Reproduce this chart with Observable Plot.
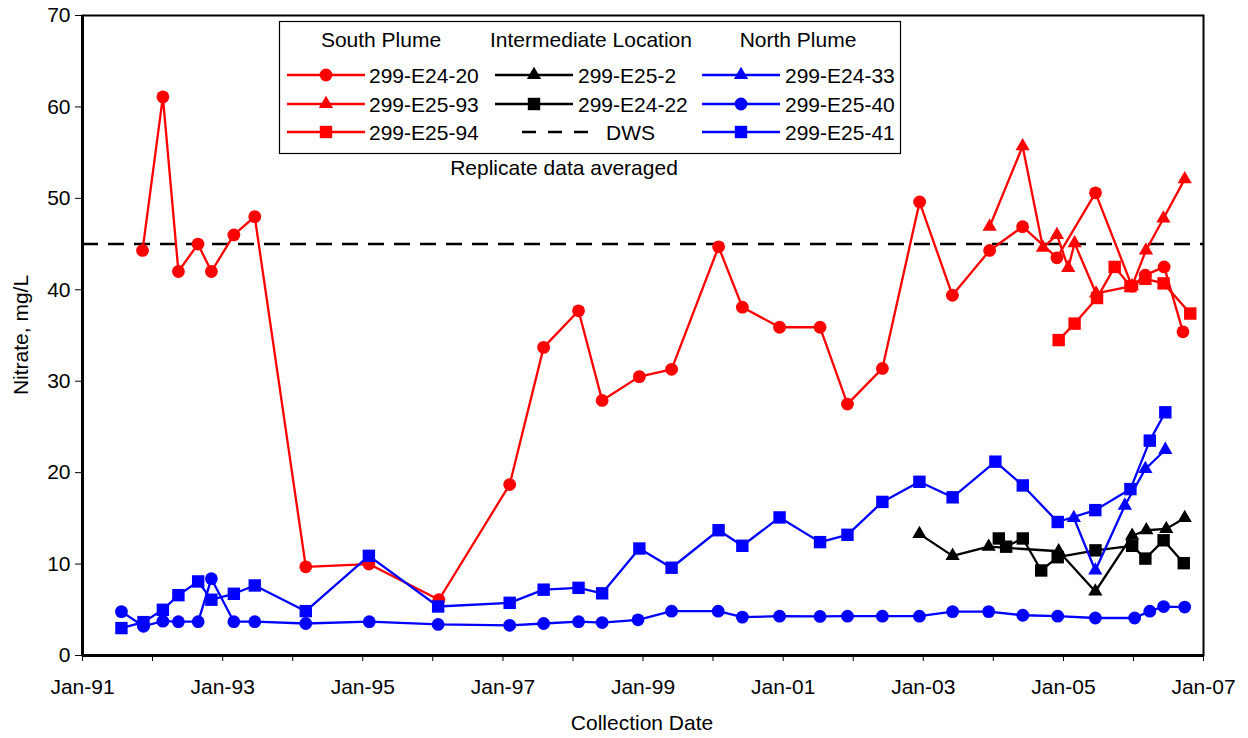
<!DOCTYPE html>
<html><head><meta charset="utf-8">
<script src="https://cdn.jsdelivr.net/npm/d3@7"></script>
<script src="https://cdn.jsdelivr.net/npm/@observablehq/plot@0.6"></script>
<style>
body{margin:0;background:#fff;font-family:"Liberation Sans",Arial,sans-serif;}
#chart{position:relative;width:1248px;height:738px;}
</style></head><body><div id="chart"></div>
<script>
// ---- data ----
const dwsValue = 45;

const e2420Dates = ["1991-11-10","1992-02-24","1992-05-15","1992-08-25","1992-11-03","1993-02-28","1993-06-17","1994-03-10","1995-02-02","1996-02-02","1997-02-05","1997-08-01","1998-01-30","1998-06-02","1998-12-13","1999-05-30","2000-01-30","2000-06-02","2000-12-13","2001-07-12","2001-12-02","2002-06-02","2002-12-13","2003-06-02","2003-12-13","2004-06-02","2004-11-28","2005-06-17","2005-12-24","2006-03-03","2006-06-10","2006-09-16"];
const e2420Values = [44.3,61.1,42.0,45.0,42.0,46.0,48.0,9.7,10.0,6.1,18.7,33.7,37.7,27.9,30.5,31.3,44.7,38.1,35.9,35.9,27.5,31.4,49.6,39.4,44.3,46.9,43.5,50.6,40.4,41.6,42.5,35.4];

const e2593Dates = ["2003-12-13","2004-06-02","2004-09-16","2004-11-28","2005-01-26","2005-02-28","2005-06-20","2005-12-24","2006-03-07","2006-06-06","2006-09-25"];
const e2593Values = [46.9,55.7,44.6,46.0,42.4,45.1,39.6,40.4,44.3,47.8,52.1];

const e2594Dates = ["2004-12-07","2005-02-28","2005-06-25","2005-09-25","2005-12-16","2006-03-04","2006-06-07","2006-10-24"];
const e2594Values = [34.5,36.3,39.1,42.5,40.4,41.2,40.7,37.4];

const e252Dates = ["2002-12-12","2003-06-03","2003-12-08","2004-12-07","2005-06-16","2005-12-25","2006-03-09","2006-06-21","2006-09-25"];
const e252Values = [13.3,10.9,11.9,11.4,7.0,13.1,13.7,13.85,15.05];

const e2422Dates = ["2004-01-30","2004-03-08","2004-06-03","2004-09-07","2004-12-02","2005-06-17","2005-12-25","2006-03-04","2006-06-07","2006-09-20"];
const e2422Values = [12.8,11.9,12.8,9.3,10.75,11.5,12.0,10.6,12.6,10.1];

const e2433Dates = ["2005-02-24","2005-06-16","2005-11-17","2006-03-04","2006-06-16"];
const e2433Values = [15.05,9.3,16.4,20.4,22.5];

const e2540Dates = ["1991-07-23","1991-11-15","1992-02-24","1992-05-15","1992-08-26","1992-11-03","1993-02-28","1993-06-17","1994-03-10","1995-02-04","1996-01-29","1997-02-05","1997-08-01","1998-01-30","1998-06-02","1998-12-06","1999-05-30","2000-01-28","2000-06-02","2000-12-13","2001-07-12","2001-12-02","2002-06-02","2002-12-12","2003-06-03","2003-12-08","2004-06-03","2004-12-02","2005-06-16","2006-01-07","2006-03-27","2006-06-07","2006-09-25"];
const e2540Values = [4.8,3.2,3.75,3.7,3.7,8.4,3.7,3.7,3.5,3.7,3.4,3.3,3.5,3.7,3.6,3.9,4.85,4.85,4.2,4.3,4.27,4.3,4.3,4.3,4.8,4.8,4.4,4.3,4.1,4.1,4.85,5.35,5.3];

const e2541Dates = ["1991-07-23","1991-11-15","1992-02-24","1992-05-15","1992-08-26","1992-11-03","1993-02-28","1993-06-17","1994-03-10","1995-02-02","1996-01-29","1997-02-05","1997-08-01","1998-01-30","1998-06-02","1998-12-13","1999-05-30","2000-01-30","2000-06-02","2000-12-13","2001-07-12","2001-12-02","2002-06-02","2002-12-12","2003-06-03","2004-01-12","2004-06-03","2004-12-02","2005-06-16","2005-12-16","2006-03-27","2006-06-16"];
const e2541Values = [3.0,3.65,5.0,6.6,8.1,6.1,6.75,7.66,4.85,10.9,5.36,5.76,7.2,7.4,6.8,11.7,9.6,13.7,12.0,15.1,12.4,13.2,16.8,19.0,17.3,21.2,18.6,14.6,15.9,18.2,23.5,26.6];

const groupNames = ["South Plume","Intermediate Location","North Plume"];
const southWells = ["299-E24-20","299-E25-93","299-E25-94"];
const intermediateWells = ["299-E25-2","299-E24-22"];
const northWells = ["299-E24-33","299-E25-40","299-E25-41"];
const yTicks = [0,10,20,30,40,50,60,70];
const xDomain = ["1991-01-01","2007-01-01"];
const xLabel = "Collection Date";
const yLabel = "Nitrate, mg/L";
const noteText = "Replicate data averaged";
const dwsLabel = "DWS";

// ---- build ----
const seriesData = {
  "299-E24-20": [e2420Dates, e2420Values],
  "299-E25-93": [e2593Dates, e2593Values],
  "299-E25-94": [e2594Dates, e2594Values],
  "299-E25-2":  [e252Dates, e252Values],
  "299-E24-22": [e2422Dates, e2422Values],
  "299-E24-33": [e2433Dates, e2433Values],
  "299-E25-40": [e2540Dates, e2540Values],
  "299-E25-41": [e2541Dates, e2541Values]
};
const style = {
  "299-E24-20": {color:"#ff0000", symbol:"circle"},
  "299-E25-93": {color:"#ff0000", symbol:"triangle"},
  "299-E25-94": {color:"#ff0000", symbol:"square"},
  "299-E25-2":  {color:"#000000", symbol:"triangle"},
  "299-E24-22": {color:"#000000", symbol:"square"},
  "299-E24-33": {color:"#0000ff", symbol:"triangle"},
  "299-E25-40": {color:"#0000ff", symbol:"circle"},
  "299-E25-41": {color:"#0000ff", symbol:"square"}
};
const symR = {circle:6.4, square:7.0, triangle:5.3};
const parse = s => new Date(s + "T00:00:00Z");
const order = [...southWells, ...intermediateWells, ...northWells];
const FONT = '"Liberation Sans", Arial, sans-serif';

const marks = [];
marks.push(Plot.ruleY([dwsValue], {stroke:"#000", strokeWidth:2.5, strokeDasharray:"16,10"}));
for (const name of order) {
  const [ds, vs] = seriesData[name];
  const rows = ds.map((d,i) => ({date: parse(d), value: vs[i]}));
  const st = style[name];
  marks.push(Plot.line(rows, {x:"date", y:"value", stroke:st.color, strokeWidth:2.3}));
  marks.push(Plot.dot(rows, {x:"date", y:"value", symbol:st.symbol, fill:st.color, stroke:"none", r:symR[st.symbol]}));
}
const yearTicks = d3.range(1991, 2008).map(y => new Date(Date.UTC(y,0,1)));
const fmt = d3.utcFormat("%b-%y");
marks.push(Plot.axisX({ticks: yearTicks, tickSize: 6, tickPadding: 18, label: null,
  tickFormat: d => d.getUTCFullYear() % 2 ? fmt(d) : ""}));
marks.push(Plot.axisY({ticks: yTicks, tickSize: 7, tickPadding: 5, label: null}));
marks.push(Plot.frame({stroke:"#000", strokeWidth:2}));
marks.push(Plot.ruleX([parse(xDomain[0])], {stroke:"#000", strokeWidth:3}));
marks.push(Plot.ruleY([0], {stroke:"#000", strokeWidth:3}));

const chart = Plot.plot({
  width: 1248, height: 738,
  marginLeft: 82, marginRight: 45, marginTop: 15, marginBottom: 83,
  x: {type:"utc", domain: xDomain.map(parse)},
  y: {domain: [0,70]},
  style: {fontFamily: FONT, fontSize: "21px", color:"#000", background:"#fff", overflow:"visible"},
  marks
});
document.getElementById("chart").appendChild(chart);

// ---- overlay: labels and legend ----
const svg = d3.select(chart);
const g = svg.append("g").attr("font-family", FONT).attr("font-size", 21).attr("fill", "#000").attr("text-anchor","start");
g.append("text").attr("x", 642).attr("y", 722).attr("text-anchor","middle").attr("dominant-baseline","central").text(xLabel);
g.append("text").attr("transform","translate(20,335) rotate(-90)").attr("text-anchor","middle").attr("dominant-baseline","central").text(yLabel);

const lg = g.append("g");
lg.append("rect").attr("x",279.5).attr("y",21.5).attr("width",621).attr("height",132).attr("fill","#fff").attr("stroke","#000").attr("stroke-width",1.2);
const headerX = [381, 591, 798];
groupNames.forEach((t,i) => lg.append("text").attr("x", headerX[i]).attr("y", 39).attr("text-anchor","middle").attr("dominant-baseline","central").text(t));
const rowY = [75, 104, 132];
const cols = [
  {x0:287, x1:365, xm:326, xt:369, wells: southWells},
  {x0:495, x1:573, xm:534, xt:578, wells: intermediateWells},
  {x0:702, x1:780, xm:741, xt:785, wells: northWells}
];
const symType = {circle: d3.symbolCircle, square: d3.symbolSquare, triangle: d3.symbolTriangle};
cols.forEach(c => {
  c.wells.forEach((name, r) => {
    const st = style[name];
    const y = rowY[r];
    lg.append("line").attr("x1",c.x0).attr("x2",c.x1).attr("y1",y).attr("y2",y).attr("stroke",st.color).attr("stroke-width",2.3);
    const rr = symR[st.symbol];
    lg.append("path").attr("transform",`translate(${c.xm},${y})`).attr("d", d3.symbol(symType[st.symbol], Math.PI*rr*rr)()).attr("fill", st.color);
    lg.append("text").attr("x", c.xt).attr("y", y).attr("text-anchor","start").attr("dominant-baseline","central").text(name);
  });
});
// DWS legend entry
lg.append("line").attr("x1",522).attr("x2",595).attr("y1",rowY[2]).attr("y2",rowY[2]).attr("stroke","#000").attr("stroke-width",2.5).attr("stroke-dasharray","14,12");
lg.append("text").attr("x",606).attr("y",rowY[2]).attr("text-anchor","start").attr("dominant-baseline","central").text(dwsLabel);
g.append("text").attr("x",564).attr("y",167).attr("text-anchor","middle").attr("dominant-baseline","central").text(noteText);
</script></body></html>
